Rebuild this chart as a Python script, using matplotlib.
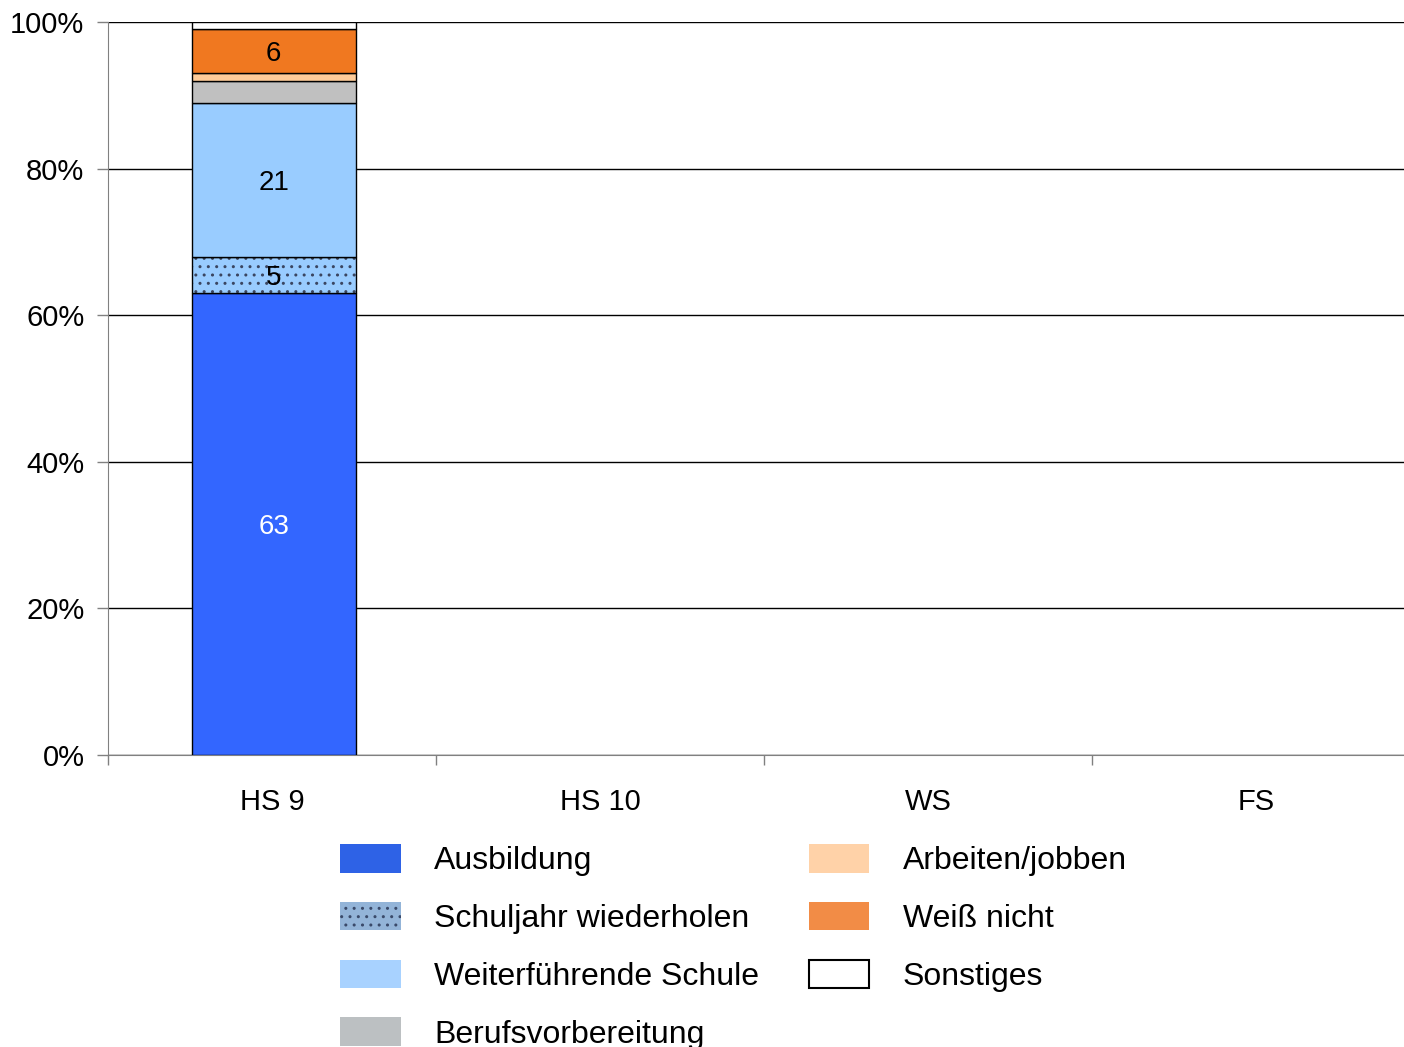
import matplotlib
matplotlib.use("Agg")
import matplotlib.pyplot as plt
from matplotlib.patches import Patch
import numpy as np

plt.rcParams['font.family'] = ['Liberation Sans', 'DejaVu Sans']
plt.rcParams['hatch.linewidth'] = 1.0

categories = ['HS 9', 'HS 10', 'WS', 'FS']
series = ['Ausbildung', 'Schuljahr wiederholen', 'Weiterführende Schule',
          'Berufsvorbereitung', 'Arbeiten/jobben', 'Weiß nicht', 'Sonstiges']
values = {
    'Ausbildung': [63, 0, 0, 0],
    'Schuljahr wiederholen': [5, 0, 0, 0],
    'Weiterführende Schule': [21, 0, 0, 0],
    'Berufsvorbereitung': [3, 0, 0, 0],
    'Arbeiten/jobben': [1, 0, 0, 0],
    'Weiß nicht': [6, 0, 0, 0],
    'Sonstiges': [1, 0, 0, 0],
}
shown_labels = ['Ausbildung', 'Schuljahr wiederholen', 'Weiterführende Schule', 'Weiß nicht']

colors = ['#3366ff', '#99ccff', '#99ccff', '#c0c0c0', '#ffcc99', '#f07820', '#ffffff']
legend_colors = ['#2e62e6', '#93b4d8', '#a8d2ff', '#bcc0c2', '#ffd2a8', '#f28c46', '#ffffff']
hatches = [None, '..', None, None, None, None, None]
text_colors = ['white', 'black', 'black', 'black', 'black', 'black', 'black']

fig = plt.figure(figsize=(14.04, 10.47), dpi=100)
ax = fig.add_axes([108 / 1404, 1 - 755 / 1047, (1404 - 108) / 1404, (755 - 22) / 1047])

x = np.arange(len(categories)) + 0.005
bottom = np.zeros(len(categories))
for i, name in enumerate(series):
    v = np.array(values[name], dtype=float)
    if hatches[i]:
        # dotted fill drawn with a grey hatch, outline drawn on top
        b = ax.bar(x, v, 0.5, bottom=bottom, color=colors[i], edgecolor='#3a4560',
                   linewidth=0, hatch=hatches[i], zorder=3)
        for p in b:
            if p.get_height() == 0:
                p.set_visible(False)
    b = ax.bar(x, v, 0.5, bottom=bottom, color=colors[i] if not hatches[i] else 'none',
               edgecolor='black', linewidth=1, zorder=3)
    for p in b:
        if p.get_height() == 0:
            p.set_visible(False)
    if name in shown_labels:
        for xi, vi, bi in zip(x, v, bottom):
            if vi > 0:
                ax.text(xi, bi + vi / 2, '%d' % vi, ha='center', va='center_baseline',
                        fontsize=20, color=text_colors[i], zorder=4)
    bottom += v

ax.set_xlim(-0.5, 3.451)
ax.set_ylim(0, 100)
ax.set_yticks(np.arange(0, 101, 20))
ax.set_yticklabels(['%d%%' % t for t in range(0, 101, 20)], fontsize=21)
ax.yaxis.grid(True, color='black', linewidth=1)
ax.set_axisbelow(True)
ax.set_xticks(np.arange(-0.5, 3.5, 1))
ax.set_xticklabels([])
ax.set_xticks(np.arange(len(categories)), minor=True)
ax.set_xticklabels(categories, minor=True, fontsize=21)
ax.tick_params(axis='x', which='minor', length=0, pad=24)
ax.tick_params(axis='x', which='major', length=7, width=1, color='#808080')
ax.tick_params(axis='y', length=8, width=1, color='#808080', pad=9)
for s in ['top', 'right']:
    ax.spines[s].set_visible(False)
ax.spines['left'].set_color('#808080')
ax.spines['bottom'].set_color('#808080')

handles = []
for i, name in enumerate(series):
    ec = 'black' if name == 'Sonstiges' else 'none'
    handles.append(Patch(facecolor=legend_colors[i], edgecolor=ec, linewidth=1.5))
handles[1] = Patch(facecolor=legend_colors[1], edgecolor='#3a4a6a', linewidth=0, hatch='..')

fig.legend(handles=handles, labels=series, ncol=2, loc='upper left',
           bbox_to_anchor=(340 / 1404, 1 - 844 / 1047), frameon=False,
           fontsize=23, handlelength=1.9, handleheight=1.0, handletextpad=1.05,
           labelspacing=0.8, columnspacing=1.55, borderpad=0, borderaxespad=0)

fig.savefig('out.png', dpi=100)
